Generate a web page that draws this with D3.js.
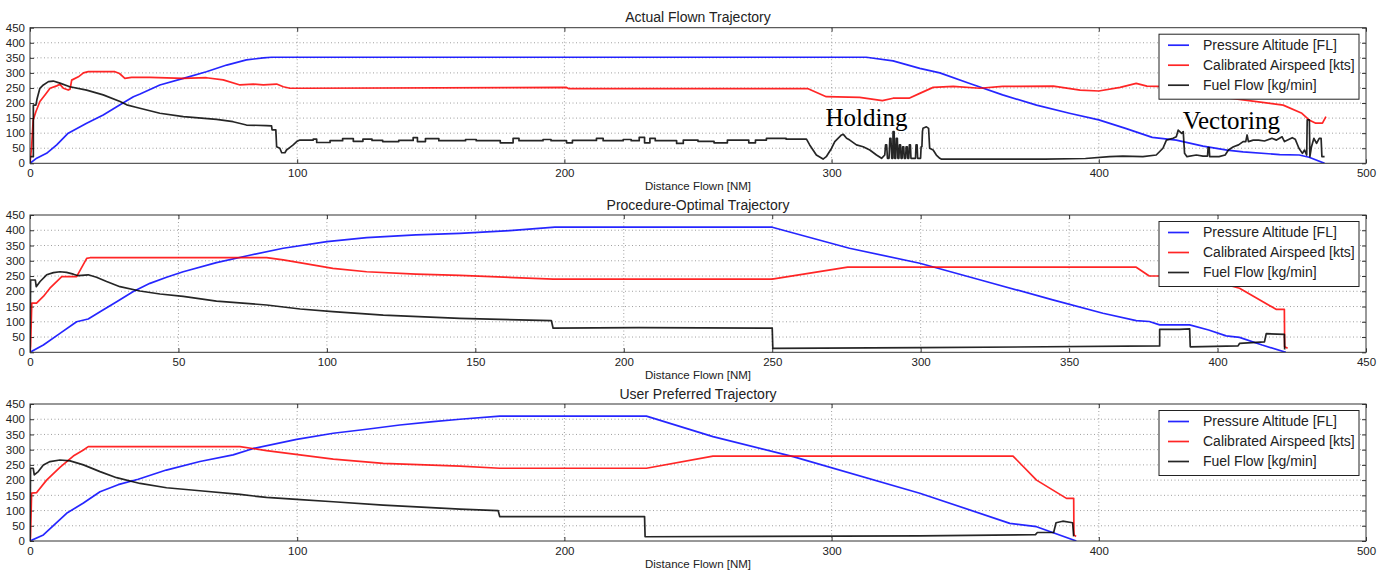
<!DOCTYPE html>
<html>
<head>
<meta charset="utf-8">
<script src="https://cdn.jsdelivr.net/npm/d3@7"></script>
<style>
body { margin: 0; background: #fff; }
text { font-family: "Liberation Sans", Arial, sans-serif; fill: #222; }
</style>
</head>
<body>
<div id="chart"></div>
<script>
////// DATA ////////
var seriesNames = ["Pressure Altitude [FL]", "Calibrated Airspeed [kts]", "Fuel Flow [kg/min]"];
var panelTitles = ["Actual Flown Trajectory", "Procedure-Optimal Trajectory", "User Preferred Trajectory"];
var xMaxes = [500, 450, 500];
var xSteps = [100, 50, 100];
var yTicks = [0, 50, 100, 150, 200, 250, 300, 350, 400, 450];
var xLabel = "Distance Flown [NM]";

// actual flown: [distance NM, value]
var actualAlt = [[0,0],[2.5,17],[6.2,33],[10,61],[14.3,100],[21.2,133],[27.4,160],[33.7,194],[38.7,221],[41.2,230],[48.6,260],[57.4,282],[66,304],[73.6,326],[81,343],[87.3,350],[90.4,352],[313,352],[323,340],[333,315],[340.5,300],[351.7,265],[364,227],[376.7,193],[389,166],[400,144],[410,116],[420,86],[429,77],[439,57],[448,44],[454,38],[467.7,29],[475,27.5],[478.7,20],[484.5,0]];
var actualSpd = [[0,0],[0.6,55],[1.2,144],[2.2,171],[3.7,205],[5.6,227],[7.5,249],[10,257],[11.2,262],[12.5,249],[14.3,243],[15,246],[15.6,276],[18.1,287],[20,300],[21.8,304],[31.8,304],[33.5,298],[35.5,282],[38,285],[44.9,285],[57.4,282],[66,284],[72.3,277],[78.6,260],[83.6,263],[87.3,260],[92.3,263],[94.8,254],[97.3,249],[101,249],[200.8,252],[201.5,248],[291,248],[298,221],[310.5,219],[319,208],[323,216],[329,216],[333,232],[338,252],[345.5,255],[355.5,249],[364,255],[383,256],[393,243],[400,240],[408,252],[414,265],[418,256],[422,255],[430,250],[440,235],[449,216],[469,193],[476,166],[478.7,144],[481.2,133],[483.7,133],[485,155]];
var actualFuel = [[0,0],[0,22],[1.25,22],[1.25,193],[2.2,193],[2.7,216],[3.7,249],[5,260],[6.9,271],[8.7,273],[11.2,266],[14.9,254],[21.2,243],[27.4,227],[33.7,205],[36.2,194],[40,185],[48.6,166],[57.4,155],[69.8,146],[76,138],[81,127],[88.5,125],[90.4,124],[90.6,111],[92,111],[92.3,55],[93.5,50],[94.2,35],[95.4,35],[96,44],[97.3,53],[98.5,61],[99.8,72],[101,77],[106,77],[106,80],[107.3,80],[107.3,69],[112.3,69],[112.3,75],[117,75],[117,82],[121,82],[121,73],[124.6,73],[124.6,80],[128,80],[128,76],[132,76],[132,72],[138,72],[138,76],[143.4,76],[143.4,85],[145,85],[145,72],[148,72],[148,82],[153,82],[153,75],[163,75],[163,79],[167,79],[167,75],[176,75],[176,68],[180.8,68],[180.8,83],[183,83],[183,75],[192,75],[192,79],[195,79],[195,75],[200.8,75],[200.8,68],[203,68],[203,76],[212,76],[212,83],[214.5,83],[214.5,75],[222,75],[222,79],[225,79],[225,75],[228,75],[228,86],[230,86],[230,68],[232,68],[232,83],[234,83],[234,75],[242,75],[242,66],[244.5,66],[244.5,77],[250,77],[250,73],[256,73],[256,68],[261,68],[261,77],[269,77],[269,68],[271.5,68],[271.5,77],[275.6,77],[275.6,83],[283,83],[283,80],[290.6,80],[291.8,61],[294.3,27.5],[296.8,14],[298,22],[300,50],[301.2,72],[303.7,94],[304.4,96],[305.6,83],[306.8,77],[309.3,61],[311.8,55],[314.3,44],[316.8,27.5],[318.7,16.6],[319.9,27.5],[320.2,61],[320.6,61],[320.9,16.6],[321.5,16.6],[321.8,83],[322.2,83],[322.5,16.6],[322.9,16.6],[323,105],[323.4,105],[323.6,16.6],[324,16.6],[324.2,83],[324.6,83],[324.8,16.6],[325.2,16.6],[325.4,61],[325.8,61],[326,16.6],[326.4,16.6],[326.6,55],[327,55],[327.2,16.6],[327.7,16.6],[327.9,55],[328.3,55],[328.5,16.6],[328.9,16.6],[329.1,61],[329.5,61],[329.7,16.6],[331.4,16.6],[331.6,61],[332,61],[332.2,16.6],[333.3,16.6],[333.5,55],[333.8,55],[334,105],[334.2,116],[335.5,121],[336.3,116],[336.7,50],[338,44],[339.2,27.5],[340.5,16.6],[341,14],[380,14],[395,16],[404,22],[409,24],[416.5,22],[421.5,27.5],[424,50],[425.3,77],[427.8,83],[429,88],[429.7,110],[431,99],[431.6,105],[432.1,33],[433,22],[436.5,27.5],[439,24],[440.7,24],[440.9,52],[441.3,52],[441.5,22],[445,22],[447.3,27.5],[448.5,44],[450.4,55],[452.3,61],[454,72],[455,72],[455.5,94],[456,72],[457.8,77],[459.8,77],[462,74],[464.8,83],[466.5,77],[468.6,88],[469.5,72],[472.4,85],[473.5,80],[474.9,50],[476.2,33],[477,44],[477.8,27.5],[478,144],[478.8,144],[479,22],[479.6,55],[480.5,83],[481.5,66],[482.5,83],[483.2,83],[483.5,22],[484.5,22]];

// procedure-optimal
var optAlt = [[0,0],[4.5,24],[10.1,62],[15.7,100],[19.6,109],[23.6,133],[29.2,166],[34.8,199],[40.4,226],[46,246],[51.6,264],[62.8,294],[74,318],[85.3,341],[100,363],[113.4,376],[130,385],[144.8,390],[161.6,399],[176.8,410],[250,410],[276,341],[299.7,292],[322,232],[344.5,172],[361.4,128],[372.6,104],[377,101],[380.5,90],[390.6,90],[397,73],[402.9,54],[407.4,49],[415,24],[423,0]];
var optSpd = [[0,0],[0.2,19],[0.6,161],[2.2,161],[4.5,183],[6.7,210],[10.7,248],[15.7,248],[19.1,308],[20.2,310],[79.7,310],[85.3,303],[93.2,290],[102,275],[113.4,264],[130,256],[144.8,252],[176.2,240],[250,240],[275.4,279],[372.6,279],[377,250],[390,250],[395,245],[400,230],[407.4,210],[419.7,141],[422.5,141],[422.6,18],[423.6,13]];
var optFuel = [[0,0],[0.2,237],[1.8,237],[2.1,215],[3.4,232],[5.6,254],[7.9,261],[10.1,264],[12.3,262],[14.6,256],[16.3,251],[19.6,254],[22.4,246],[25.8,232],[30.3,215],[37,201],[43.8,191],[51.6,183],[62.8,168],[79.7,155],[91,142],[102,133],[119,122],[144.8,111],[175.6,104],[176.2,79],[205,81],[250,79],[250.2,13],[300,15],[380.5,21],[380.5,75],[387.2,75],[390.6,77],[390.8,18],[406.9,21],[407.4,29],[415.8,34],[416.4,61],[422.5,59],[422.6,9]];

// user preferred
var userAlt = [[0,0],[5,20],[13.7,91],[20,125],[26.2,162],[33,185],[40.5,203],[51,233],[63.6,261],[76,283],[83.6,304],[99.8,334],[113.5,354],[126,367],[138.4,381],[150.9,392],[160.9,400],[175.8,410],[230.7,410],[255.6,343],[285.6,277],[333,157],[366.7,58],[376.7,47],[391.6,0]];
var userSpd = [[0,0],[0.2,14],[0.6,157],[2.5,159],[6.2,200],[11.2,242],[16.2,279],[20,299],[21.8,310],[78.6,310],[88.5,297],[101,283],[113.5,269],[132.2,255],[160.9,246],[175.8,239],[230.7,239],[255.6,279],[367.9,279],[376.7,200],[387.9,140],[390.6,140],[390.7,20],[391.5,15]];
var userFuel = [[0,0],[0.2,239],[1.2,239],[1.6,217],[3.1,228],[5,250],[7.5,261],[11.2,266],[15,263],[20,250],[26.2,228],[32.4,208],[41.2,189],[51.1,175],[63.6,165],[78.6,153],[88.5,143],[99.8,137],[113.5,129],[132.2,118],[160.9,105],[175.2,100],[175.8,80],[230,80],[230.2,14],[333,17],[376.3,21],[377,28],[383.1,28],[384,60],[386.5,65],[390.2,60],[390.6,15]];

// annotations on the top panel: [label, distance, value]
var notes = [["Holding", 297.7, 124], ["Vectoring", 431.4, 114]];
///////////////////////

var colours = ["#0000ff", "#ff0000", "#000000"];
var left = 30;
var w = 1336;
var tops = [27.7, 215, 404];
var heights = [135.6, 137.3, 137];

var panels = [
	[actualAlt, actualSpd, actualFuel],
	[optAlt, optSpd, optFuel],
	[userAlt, userSpd, userFuel]
];

var svg = d3.select("#chart")
.append("svg")
.attr("width", 1386)
.attr("height", 574);

for (var i = 0; i < 3; i++) {
	drawPanel(i);
}

// FUNCTION DEFINITIONS

function drawPanel (i) {
	var h = heights[i];
	var g = svg.append("g")
		.attr("transform", "translate(" + left + "," + tops[i] + ")");

	var xScale = d3.scaleLinear().domain([0, xMaxes[i]]).range([0, w]);
	var yScale = d3.scaleLinear().domain([0, 450]).range([h, 0]);
	var xTicks = d3.range(0, xMaxes[i] + 1, xSteps[i]);

	// dotted grid
	g.selectAll(".gridx")
	.data(xTicks.slice(1, -1))
	.enter()
	.append("line")
	.attr("x1", function (d) { return xScale(d); })
	.attr("x2", function (d) { return xScale(d); })
	.attr("y1", 0)
	.attr("y2", h)
	.style("stroke", "#888")
	.style("stroke-width", 0.8)
	.style("stroke-dasharray", "1,2.5");

	g.selectAll(".gridy")
	.data(yTicks.slice(1, -1))
	.enter()
	.append("line")
	.attr("x1", 0)
	.attr("x2", w)
	.attr("y1", function (d) { return yScale(d); })
	.attr("y2", function (d) { return yScale(d); })
	.style("stroke", "#888")
	.style("stroke-width", 0.8)
	.style("stroke-dasharray", "1,2.5");

	// axes, ticks pointing inwards
	g.append("g")
		.attr("transform", "translate(0," + h + ")")
		.call(d3.axisBottom(xScale).tickValues(xTicks).tickSize(-4).tickSizeOuter(0).tickPadding(6));
	g.append("g")
		.call(d3.axisLeft(yScale).tickValues(yTicks).tickSize(-4).tickSizeOuter(0).tickPadding(5));
	g.append("g")
		.call(d3.axisTop(xScale).tickValues(xTicks).tickSize(-4).tickSizeOuter(0).tickFormat(""));
	g.append("g")
		.attr("transform", "translate(" + w + ",0)")
		.call(d3.axisRight(yScale).tickValues(yTicks).tickSize(-4).tickSizeOuter(0).tickFormat(""));

	g.selectAll(".domain").remove();
	g.selectAll(".tick line").style("stroke", "#333");
	g.selectAll(".tick text")
	.style("font-size", "11.5px")
	.style("font-family", "'Liberation Sans', Arial, sans-serif")
	.style("fill", "#222");

	// clip for the lines
	g.append("clipPath")
	.attr("id", "clip" + i)
	.append("rect")
	.attr("width", w)
	.attr("height", h);

	var line = d3.line()
		.x(function (d) { return xScale(d[0]); })
		.y(function (d) { return yScale(d[1]); });

	g.append("g")
	.attr("clip-path", "url(#clip" + i + ")")
	.selectAll("path")
	.data(panels[i])
	.enter()
	.append("path")
	.attr("d", line)
	.style("fill", "none")
	.style("stroke", function (d, k) { return colours[k]; })
	.style("stroke-width", 1.7)
	.style("stroke-linejoin", "round")
	.style("opacity", 0.85);

	// frame
	g.append("rect")
	.attr("width", w)
	.attr("height", h)
	.style("fill", "none")
	.style("stroke", "#333")
	.style("stroke-width", 1);

	// title + x label
	g.append("text")
	.attr("x", w / 2)
	.attr("y", -5.5)
	.attr("text-anchor", "middle")
	.style("font-size", "14px")
	.text(panelTitles[i]);

	g.append("text")
	.attr("x", w / 2)
	.attr("y", h + 27)
	.attr("text-anchor", "middle")
	.style("font-size", "11.5px")
	.text(xLabel);

	// annotations only on the actual flown panel
	if (i == 0) {
		g.selectAll(".note")
		.data(notes)
		.enter()
		.append("text")
		.attr("x", function (d) { return xScale(d[1]); })
		.attr("y", function (d) { return yScale(d[2]); })
		.style("font-family", "'Liberation Serif', 'Times New Roman', serif")
		.style("font-size", "25px")
		.style("fill", "#000")
		.text(function (d) { return d[0]; });
	}

	// legend
	var lg = g.append("g")
		.attr("transform", "translate(" + (w - 207) + ",6.5)");
	lg.append("rect")
	.attr("width", 200)
	.attr("height", 65)
	.style("fill", "#fff")
	.style("stroke", "#222")
	.style("stroke-width", 1);

	for (var k = 0; k < 3; k++) {
		lg.append("line")
		.attr("x1", 9)
		.attr("x2", 30)
		.attr("y1", 11 + k * 20)
		.attr("y2", 11 + k * 20)
		.style("stroke", colours[k])
		.style("stroke-width", 1.7)
		.style("opacity", 0.85);
		lg.append("text")
		.attr("x", 44)
		.attr("y", 11 + k * 20)
		.attr("dy", "0.35em")
		.style("font-size", "14px")
		.text(seriesNames[k]);
	}
}
</script>
</body>
</html>
